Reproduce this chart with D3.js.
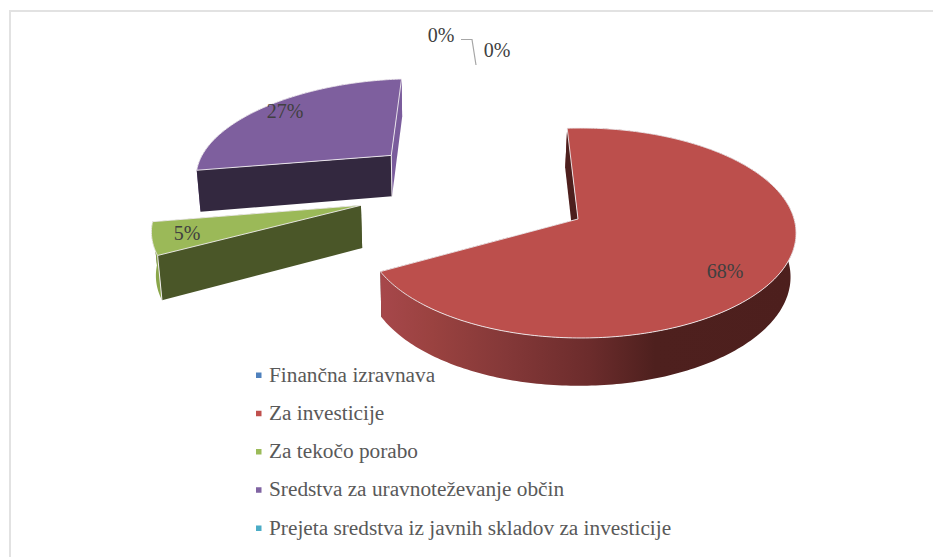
<!DOCTYPE html>
<html>
<head>
<meta charset="utf-8">
<script src="https://cdn.jsdelivr.net/npm/d3@7"></script>
<style>
    html, body { margin: 0; padding: 0; background: #fff; overflow: hidden; }
    text { font-family: "Liberation Serif", serif; }
</style>
</head>
<body>
<svg id="chart" width="933" height="557"></svg>
<script>
// chart data
const categories = ["Finančna izravnava", "Za investicije", "Za tekočo porabo",
    "Sredstva za uravnoteževanje občin", "Prejeta sredstva iz javnih skladov za investicije"];
const shares = [0, 67.9, 5.4, 26.7, 0];
const shareLabels = ["0%", "68%", "5%", "27%", "0%"];

// colours per slice: top, front wall, outer wall, legend marker
const topColors = ["#4f81bd", "#bc4f4c", "#9bb958", "#7e5f9e", "#4bacc6"];
const wallColors = ["#2a4565", "#4d1f1d", "#4a5628", "#33283f", "#28606f"];
const outerColors = ["#2a4565", "#4d1f1d", "#8aa64a", "#7a5c9c", "#28606f"];
const markerColors = ["#4f81bd", "#c0504d", "#9bbb59", "#8064a2", "#4bacc6"];

// explode offset in disc units and label spot for each slice
const explodeU = [0, 0, -1.048, -0.964, 0];
const explodeV = [0, 0, -0.137, -0.68, 0];
const labelX = [441, 725, 187, 285, 497];
const labelY = [42, 278, 240, 118, 57];

const svg = d3.select("#chart");

// frame
svg.append("path")
    .attr("d", "M10,557V11H933")
    .attr("fill", "none")
    .attr("stroke", "#e2e2e2")
    .attr("stroke-width", 2);

// perspective of the disc: u goes right, v goes towards the viewer
const cx = 578, cy = 219, scaleU = 213.5, scaleV = 103.1, perspV = 0.1333, perspU = 0.012;

function project(u, v) {
    let w = 1 - perspV * v - perspU * u;
    return [cx + scaleU * u / w, cy + scaleV * v / w];
}

// bottom plane of the extruded pie
function extrude(p) {
    return [p[0] - (p[0] - 440) * 0.0155, p[1] * 1.038 + 35];
}

const pie = d3.pie()
    .sort(null)
    .value(function (d) { return d; })
    .startAngle(-3.3 * Math.PI / 180)
    .endAngle((360 - 3.3) * Math.PI / 180);

const slices = pie(shares).map(function (d, i) {
    let offU = explodeU[i], offV = explodeV[i];
    let step = Math.PI / 180;
    let n = Math.max(1, Math.ceil((d.endAngle - d.startAngle) / step));
    let rim = d3.range(n + 1).map(function (k) {
        let a = d.startAngle + (d.endAngle - d.startAngle) * k / n;
        return project(offU + Math.sin(a), offV - Math.cos(a));
    });
    return { index: i, value: d.value, apex: project(offU, offV), rim: rim };
}).filter(function (d) { return d.value > 0; });

const line = d3.line();
const defs = svg.append("defs");

// shading of the big wall, light on the left and dark from about x=660
const grad = defs.append("linearGradient")
    .attr("id", "redWall")
    .attr("gradientUnits", "userSpaceOnUse")
    .attr("x1", 383).attr("x2", 795).attr("y1", 0).attr("y2", 0);
[[0, "#a6474a"], [0.12, "#9a4240"], [0.3, "#843838"], [0.5, "#6c2c2c"], [0.66, "#4e201e"], [1, "#4d1f1d"]]
    .forEach(function (s) {
        grad.append("stop").attr("offset", s[0]).attr("stop-color", s[1]);
    });

const pieG = svg.append("g");
const edge = "#f2eef0";

// farthest slice first
[3, 2, 1].forEach(function (idx) {
    let s = slices.find(function (d) { return d.index === idx; });
    let g = pieG.append("g");
    let first = s.rim[0], last = s.rim[s.rim.length - 1];

    // the face at the end of the slice
    g.append("path")
        .attr("d", line([s.apex, last, extrude(last), extrude(s.apex)]) + "Z")
        .attr("fill", idx === 3 ? outerColors[idx] : wallColors[idx]);

    // outer wall
    let bottom = s.rim.map(extrude).reverse();
    g.append("path")
        .attr("d", line(s.rim.concat(bottom)) + "Z")
        .attr("fill", idx === 1 ? "url(#redWall)" : outerColors[idx]);

    // the face at the start of the slice
    g.append("path")
        .attr("d", line([s.apex, first, extrude(first), extrude(s.apex)]) + "Z")
        .attr("fill", wallColors[idx]);

    // light corner line on the small slices
    if (idx !== 1) {
        let corner = idx === 2 ? first : s.apex;
        g.append("path")
            .attr("d", line([corner, extrude(corner)]))
            .attr("stroke", edge)
            .attr("stroke-width", 1)
            .attr("fill", "none");
    }

    // top face
    g.append("path")
        .attr("d", line([s.apex].concat(s.rim)) + "Z")
        .attr("fill", topColors[idx])
        .attr("stroke", edge)
        .attr("stroke-width", 0.9)
        .attr("stroke-linejoin", "round");
});

// leader line for the zero slices
svg.append("path")
    .attr("d", "M461,39.5H472L476,65")
    .attr("fill", "none")
    .attr("stroke", "#a6a6a6")
    .attr("stroke-width", 1.2);

// value labels
svg.append("g").selectAll("text")
    .data(shareLabels)
    .enter().append("text")
    .attr("x", function (d, i) { return labelX[i]; })
    .attr("y", function (d, i) { return labelY[i]; })
    .attr("text-anchor", "middle")
    .style("font-size", "20px")
    .style("fill", "#404040")
    .text(function (d) { return d; });

// legend
const legendY = d3.scalePoint().domain(categories).range([375, 528]);

const legend = svg.append("g").selectAll("g")
    .data(categories)
    .enter().append("g")
    .attr("transform", function (d) { return "translate(0," + legendY(d) + ")"; });

legend.append("rect")
    .attr("x", 256)
    .attr("y", -2.5)
    .attr("width", 5.5)
    .attr("height", 5.5)
    .attr("fill", function (d, i) { return markerColors[i]; });

legend.append("text")
    .attr("x", 269)
    .attr("y", 6.5)
    .style("font-size", "21.3px")
    .style("fill", "#595959")
    .text(function (d) { return d; });
</script>
</body>
</html>
